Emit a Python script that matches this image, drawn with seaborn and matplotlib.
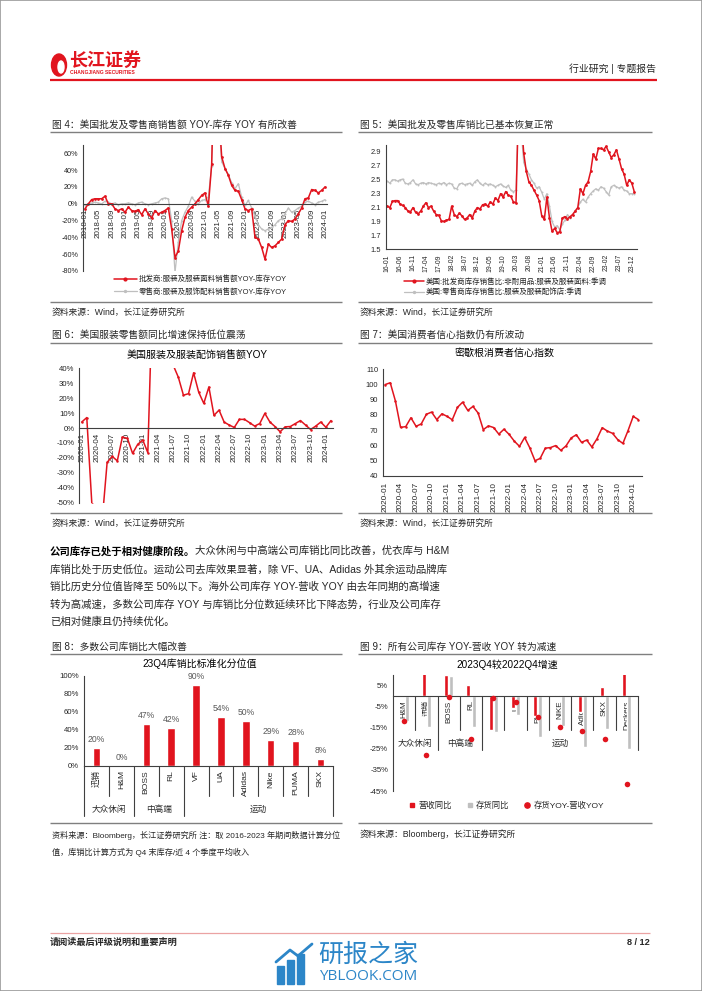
import numpy as np
import pandas as pd
import matplotlib
matplotlib.use("Agg")
import matplotlib.pyplot as plt
import matplotlib.transforms as mtrans
from matplotlib.lines import Line2D
from matplotlib.patches import Ellipse, Rectangle
import seaborn as sns

# ---------------- data ----------------
# Fig 4: monthly 2018-01 .. 2024-01, sales YOY minus inventory YOY (%)
fig4_start = "2018-01"
fig4_wholesale = [
    -6, 0, 5, 6, 6, 6, 9, 0, 0, -6, -8, -6,
    -10, -4, -8, -9, -7, -13, -6, -12, -17, -8, -12, -10,
    -8, -5, -30, -64, -56, -32, -16, -8, -4, 0, 5, 10,
    13, -3, 47, 200, 120, 56, 42, 34, 22, 16, 15, 5,
    -6, -8, -6, -40, -42, -52, -66, -48, -52, -50, -46, -42,
    -25, -20, -21, -18, -12, -5, 6, 7, 17, 16, 13, 16,
    20,
]
fig4_retail = [
    -2, 0, 1, 2, 1, 0, 3, 2, 0, 1, -1, 0,
    0, 1, 0, -1, 1, 2, 0, -1, 0, 1, 2, 6,
    7, 6, -20, -82, -45, -20, -10, -3, 8, 3, 0, 4,
    5, 8, 45, 200, 110, 50, 42, 35, 25, 18, 24, 8,
    -2, 4, -5, -15, -25, -30, -32, -30, -28, -25, -20, -18,
    -12, -5, -10, -8, -5, -3, 2, 3, 1, -1, 2, 3,
    5,
]
fig4_xlabels = ["2018-01", "2018-05", "2018-09", "2019-01", "2019-05", "2019-09",
                "2020-01", "2020-05", "2020-09", "2021-01", "2021-05", "2021-09",
                "2022-01", "2022-05", "2022-09", "2023-01", "2023-05", "2023-09", "2024-01"]
fig4_legend = ["批发商:服装及服装面料销售额YOY-库存YOY", "零售商:服装及服饰配料销售额YOY-库存YOY"]

# Fig 5: monthly 2016-01 .. 2024-01, inventory / sales ratio
fig5_start = "2016-01"
fig5_wholesale = [
    2.12, 2.10, 2.19, 2.20, 2.20, 2.15, 2.13, 2.10, 2.05, 2.04, 2.10, 2.03,
    2.01, 2.05, 2.12, 2.17, 2.10, 2.12, 2.05, 2.00, 1.99, 1.91, 1.90, 1.92,
    1.93, 2.12, 2.00, 1.97, 2.02, 1.98, 1.93, 1.95, 2.00, 1.95, 2.05, 2.10,
    2.08, 2.14, 2.15, 2.12, 2.18, 2.15, 2.24, 2.20, 2.30, 2.25, 2.33, 2.28,
    2.26, 2.18, 2.17, 3.60, 3.40, 2.88, 2.62, 2.47, 2.42, 2.35, 2.28, 2.20,
    1.98, 1.93, 2.25, 1.95, 1.76, 1.80, 1.74, 1.75, 1.95, 1.97, 1.94, 1.97,
    2.00, 2.05, 2.10, 2.37, 2.30, 2.42, 2.47, 2.62, 2.87, 2.80, 2.95, 2.95,
    2.93, 2.98, 2.90, 2.82, 2.86, 2.93, 2.80, 2.66, 2.58, 2.42, 2.50, 2.45,
    2.32,
]
fig5_retail = [
    2.48, 2.45, 2.50, 2.50, 2.48, 2.50, 2.51, 2.45, 2.44, 2.46, 2.50, 2.44,
    2.43, 2.45, 2.46, 2.44, 2.46, 2.45, 2.44, 2.43, 2.45, 2.44, 2.46, 2.43,
    2.45, 2.44, 2.38, 2.37, 2.44, 2.45, 2.43, 2.44, 2.45, 2.42, 2.47, 2.50,
    2.45, 2.42, 2.45, 2.43, 2.44, 2.42, 2.40, 2.42, 2.44, 2.41, 2.39, 2.42,
    2.35, 2.33, 2.35, 3.60, 3.20, 2.75, 2.65, 2.58, 2.50, 2.45, 2.38, 2.40,
    2.32, 2.22, 2.30, 2.12, 1.90, 1.82, 1.84, 1.78, 1.86, 1.92, 2.00, 1.95,
    2.00, 2.05, 2.10, 2.18, 2.22, 2.18, 2.25, 2.30, 2.34, 2.37, 2.35, 2.40,
    2.38, 2.33, 2.28, 2.40, 2.42, 2.40, 2.38, 2.40, 2.35, 2.34, 2.30, 2.30,
    2.30,
]
fig5_xlabels = ["16-01", "16-06", "16-11", "17-04", "17-09", "18-02", "18-07", "18-12",
                "19-05", "19-10", "20-03", "20-08", "21-01", "21-06", "21-11", "22-04",
                "22-09", "23-02", "23-07", "23-12"]
fig5_legend = ["美国:批发商库存销售比:非耐用品:服装及服装面料:季调", "美国:零售商库存销售比:服装及服装配饰店:季调"]

# Fig 6: monthly 2020-01 .. 2024-02, apparel retail sales YOY (%)
fig6_start = "2020-01"
fig6_yoy = [
    4, 7, -51, -89, -63, -23, -19, -22, -6, -7, -17, -11,
    -8, -16.5, 100, 700, 200, 200, 42, 34, 22, 23, 37, 24,
    16.5, 27.5, 8.5, 12, 4, 2, 0.4, 5.8, 5.8, 3.6, 1.3, 3,
    9.8, 4, 1, -2.5, 0.8, 1, 3, 5, 2, -1, 1.3, 4,
    0.5, 5,
]
# Fig 7: monthly 2020-01 .. 2024-02, Michigan consumer sentiment
fig7_start = "2020-01"
fig7_index = [
    99.8, 101.0, 89.1, 71.8, 72.3, 78.1, 72.5, 74.1, 80.4, 81.8, 76.9, 80.7,
    79.0, 76.8, 84.9, 88.3, 82.9, 85.5, 81.2, 70.3, 72.8, 71.7, 67.4, 70.6,
    67.2, 62.8, 59.4, 65.2, 58.4, 50.0, 51.5, 58.2, 58.6, 59.9, 56.8, 59.7,
    64.9, 67.0, 62.0, 63.5, 59.0, 64.4, 71.6, 69.4, 67.9, 63.8, 61.3, 69.7,
    79.0, 76.9,
]
fig67_xlabels = ["2020-01", "2020-04", "2020-07", "2020-10", "2021-01", "2021-04", "2021-07",
                 "2021-10", "2022-01", "2022-04", "2022-07", "2022-10", "2023-01", "2023-04",
                 "2023-07", "2023-10", "2024-01"]

# Fig 8: 23Q4 inventory/sales percentile
fig8_companies = ["迅销", "H&M", "BOSS", "RL", "VF", "UA", "Adidas", "Nike", "PUMA", "SKX"]
fig8_values = [20, 0, 47, 42, 90, 54, 50, 29, 28, 8]
fig8_groups = [("大众休闲", 0, 1), ("中高端", 2, 3), ("运动", 4, 9)]

# Fig 9: 2023Q4 vs 2022Q4
fig9_companies = ["H&M", "迅销", "BOSS", "RL", "VF", "UA", "PUMA", "NIKE", "Adidas", "SKX", "Deckers"]
fig9_revenue = [0, 13.5, 10.2, 5.3, -16, -5.8, -9.4, 0.4, -7.4, 4.2, 16.2]
fig9_inventory = [-12, -14.5, 9.4, -14.8, -16.8, -9, -19.2, -14, -24, -15.7, -25.2]
fig9_diff = [-12, -28, -0.5, -20.3, -1, -3, -9.8, -14.8, -16.5, -20.5, -41.5]
fig9_groups = [("大众休闲", 0, 1), ("中高端", 2, 3), ("运动", 4, 10)]
fig9_series = ["营收同比", "存货同比", "存货YOY-营收YOY"]

# ---------------- style ----------------
RED = "#E1141E"
GRAY = "#BFBFBF"
AXC = "#404040"
TXT = "#262626"
W, H = 702, 991

sns.set_theme(style="white")
plt.rcParams["font.family"] = ["Liberation Sans", "Noto Sans CJK SC"]
plt.rcParams["axes.unicode_minus"] = False

fig = plt.figure(figsize=(W / 100, H / 100), dpi=100)
fig.patch.set_facecolor("white")


def add_ax(x0, y0, x1, y1):
    ax = fig.add_axes([x0 / W, 1 - y1 / H, (x1 - x0) / W, (y1 - y0) / H])
    ax.set_facecolor("none")
    return ax


def ftext(x, y, s, size, ha="left", va="center", color=TXT, **kw):
    return fig.text(x / W, 1 - y / H, s, fontsize=size, ha=ha, va=va, color=color, **kw)


def hline(x0, x1, y, color="#7F7F7F", lw=1.0):
    fig.add_artist(Line2D([x0 / W, x1 / W], [1 - y / H, 1 - y / H], transform=fig.transFigure,
                          color=color, lw=lw, solid_capstyle="butt"))


def style(ax, xsize, ysize, xpad=1.5, zero_axis=False):
    sns.despine(ax=ax)
    if zero_axis:
        ax.spines["bottom"].set_position(("data", 0))
    for s in ("left", "bottom"):
        ax.spines[s].set_color(AXC)
        ax.spines[s].set_linewidth(0.8)
    ax.tick_params(axis="x", labelsize=xsize, colors=AXC, labelcolor=TXT, length=2, width=0.6,
                   pad=xpad, labelrotation=90)
    ax.tick_params(axis="y", labelsize=ysize, colors=AXC, labelcolor=TXT, length=2, width=0.6, pad=1.5)
    ax.set_xlabel("")
    ax.set_ylabel("")
    ax.grid(False)


def month_pos(start, n, labels, fmt):
    months = pd.period_range(start, periods=n, freq="M").strftime(fmt).tolist()
    return [months.index(l) for l in labels]


# ---------------- header ----------------
fig.add_artist(Ellipse((59 / W, 1 - 65 / H), 15 / W, 22 / H, transform=fig.transFigure, color=RED))
fig.add_artist(Ellipse((61 / W, 1 - 67 / H), 6 / W, 12 / H, transform=fig.transFigure, color="white"))
ftext(69, 61, "长江证券", 13, color=RED, fontweight="bold")
ftext(70, 72.5, "CHANGJIANG SECURITIES", 3.6, color=RED, fontweight="bold")
ftext(656, 69, "行业研究 | 专题报告", 7.1, ha="right")
hline(50, 657, 79.5, color=RED, lw=1.6)

# ---------------- captions / rules ----------------
ftext(52, 125, "图 4：美国批发及零售商销售额 YOY-库存 YOY 有所改善", 7)
ftext(360, 125, "图 5：美国批发及零售库销比已基本恢复正常", 7)
hline(50, 342, 131.7)
hline(358, 652, 131.7)
hline(50, 342, 301.7)
hline(358, 652, 301.7)
ftext(52, 312.7, "资料来源：Wind，长江证券研究所", 6.3)
ftext(360, 312.7, "资料来源：Wind，长江证券研究所", 6.3)

ftext(52, 335, "图 6：美国服装零售额同比增速保持低位震荡", 7)
ftext(360, 335, "图 7：美国消费者信心指数仍有所波动", 7)
hline(50, 342, 343)
hline(358, 652, 343)
hline(50, 342, 512.7)
hline(358, 652, 512.7)
ftext(52, 523.5, "资料来源：Wind，长江证券研究所", 6.3)
ftext(360, 523.5, "资料来源：Wind，长江证券研究所", 6.3)

ftext(52, 647, "图 8：多数公司库销比大幅改善", 7)
ftext(360, 647, "图 9：所有公司库存 YOY-营收 YOY 转为减速", 7)
hline(50, 342, 653.5)
hline(358, 652, 653.5)
hline(50, 342, 822.7)
hline(358, 652, 822.7)
ftext(52, 835, "资料来源：Bloomberg，长江证券研究所 注：取 2016-2023 年期间数据计算分位", 5.85)
ftext(52, 852, "值，库销比计算方式为 Q4 末库存/近 4 个季度平均收入", 5.85)
ftext(360, 834, "资料来源：Bloomberg，长江证券研究所", 6.3)

# ---------------- Fig 4 ----------------
ax4 = add_ax(83, 145, 327, 271)
x4 = np.arange(len(fig4_wholesale))
sns.lineplot(x=x4, y=fig4_retail, ax=ax4, color=GRAY, lw=0.9, marker="o", markersize=1.4, markeredgewidth=0)
sns.lineplot(x=x4, y=fig4_wholesale, ax=ax4, color=RED, lw=1.1, marker="o", markersize=2, markeredgewidth=0)
style(ax4, 5.8, 5.2, zero_axis=True)
ax4.set_ylim(-80, 70)
ax4.set_xlim(-0.6, 72.6)
yt = list(range(-80, 61, 20))
ax4.set_yticks(yt)
ax4.set_yticklabels([f"{v}%" for v in yt])
ax4.set_xticks(month_pos(fig4_start, len(x4), fig4_xlabels, "%Y-%m"))
ax4.set_xticklabels(fig4_xlabels, rotation=90)
ax4.legend([Line2D([], [], color=RED, lw=1.1, marker="o", ms=2),
            Line2D([], [], color=GRAY, lw=0.9, marker="o", ms=1.4)],
           fig4_legend, loc="upper left", bbox_to_anchor=(114 / W, 1 - 275.5 / H),
           bbox_transform=fig.transFigure, frameon=False, fontsize=5.4, handlelength=3.0,
           handletextpad=0.3, labelspacing=0.6, borderpad=0, borderaxespad=0, labelcolor=TXT)

# ---------------- Fig 5 ----------------
ax5 = add_ax(386, 145, 637, 249.3)
x5 = np.arange(len(fig5_wholesale))
sns.lineplot(x=x5, y=fig5_retail, ax=ax5, color=GRAY, lw=0.9, marker="o", markersize=1.4, markeredgewidth=0)
sns.lineplot(x=x5, y=fig5_wholesale, ax=ax5, color=RED, lw=1.1, marker="o", markersize=2, markeredgewidth=0)
style(ax5, 4.9, 5.4)
ax5.set_ylim(1.5, 3.0)
ax5.set_xlim(-0.5, 97)
yt5 = [1.5, 1.7, 1.9, 2.1, 2.3, 2.5, 2.7, 2.9]
ax5.set_yticks(yt5)
ax5.set_yticklabels([f"{v:.1f}" for v in yt5])
ax5.set_xticks(month_pos(fig5_start, len(x5), fig5_xlabels, "%y-%m"))
ax5.set_xticklabels(fig5_xlabels, rotation=90)
ax5.legend([Line2D([], [], color=RED, lw=1.1, marker="o", ms=2),
            Line2D([], [], color=GRAY, lw=0.9, marker="o", ms=1.4)],
           fig5_legend, loc="upper left", bbox_to_anchor=(404 / W, 1 - 278 / H),
           bbox_transform=fig.transFigure, frameon=False, fontsize=5.4, handlelength=2.6,
           handletextpad=0.3, labelspacing=0.35, borderpad=0, borderaxespad=0, labelcolor=TXT)

# ---------------- Fig 6 ----------------
ftext(197, 355, "美国服装及服装配饰销售额YOY", 7.2, ha="center", color="black")
ax6 = add_ax(79.3, 368.3, 333, 502.7)
x6 = np.arange(len(fig6_yoy))
sns.lineplot(x=x6, y=fig6_yoy, ax=ax6, color=RED, lw=1.1, marker="o", markersize=1.8, markeredgewidth=0)
style(ax6, 5.8, 5.6, zero_axis=True)
ax6.set_ylim(-50, 40)
ax6.set_xlim(-0.47, 49.4)
yt6 = list(range(-50, 41, 10))
ax6.set_yticks(yt6)
ax6.set_yticklabels([f"{v}%" for v in yt6])
ax6.set_xticks(month_pos(fig6_start, len(x6), fig67_xlabels, "%Y-%m"))
ax6.set_xticklabels(fig67_xlabels, rotation=90)

# ---------------- Fig 7 ----------------
ftext(505, 353, "密歇根消费者信心指数", 7.2, ha="center", color="black")
ax7 = add_ax(383, 369, 642, 476)
x7 = np.arange(len(fig7_index))
sns.lineplot(x=x7, y=fig7_index, ax=ax7, color=RED, lw=1.1, marker="o", markersize=1.8, markeredgewidth=0)
style(ax7, 5.9, 5.4, xpad=2.5)
ax7.set_ylim(40, 110)
ax7.set_xlim(-0.4, 49.7)
yt7 = list(range(40, 111, 10))
ax7.set_yticks(yt7)
ax7.set_yticklabels([str(v) for v in yt7])
ax7.set_xticks(month_pos(fig7_start, len(x7), fig67_xlabels, "%Y-%m"))
ax7.set_xticklabels(fig67_xlabels, rotation=90)

# ---------------- Fig 8 ----------------
ftext(200, 664, "23Q4库销比标准化分位值", 7.2, ha="center", color="black")
ax8 = add_ax(84, 676, 333, 766)
sns.barplot(x=fig8_companies, y=fig8_values, color=RED, saturation=1, width=0.3, ax=ax8)
style(ax8, 6.1, 5.6)
ax8.set_ylim(0, 100)
ax8.set_xlim(-0.5, len(fig8_companies) - 0.5)
yt8 = list(range(0, 101, 20))
ax8.set_yticks(yt8)
ax8.set_yticklabels([f"{v}%" for v in yt8])
ax8.tick_params(axis="x", length=0, pad=3)
ax8.bar_label(ax8.containers[0], labels=[f"{v}%" for v in fig8_values], padding=3,
              fontsize=6.2, color="#595959")
tr8 = mtrans.blended_transform_factory(ax8.transData, ax8.transAxes)
long8 = {-0.5} | {g[1] - 0.5 for g in fig8_groups} | {len(fig8_companies) - 0.5}
for b in np.arange(-0.5, len(fig8_companies), 1.0):
    ax8.plot([b, b], [0, -0.556 if b in long8 else -0.333], transform=tr8, clip_on=False,
             color=AXC, lw=0.8)
for name, a, b in fig8_groups:
    ax8.text((a + b) / 2, -0.478, name, transform=tr8, ha="center", va="center", fontsize=6.2, color=TXT)

# ---------------- Fig 9 ----------------
ftext(507, 665, "2023Q4较2022Q4增速", 7.2, ha="center", color="black")
ax9 = add_ax(393, 675, 638, 791)
df9 = pd.DataFrame({
    "公司": fig9_companies * 2,
    "指标": [fig9_series[0]] * len(fig9_companies) + [fig9_series[1]] * len(fig9_companies),
    "值": fig9_revenue + fig9_inventory,
})
sns.barplot(data=df9, x="公司", y="值", hue="指标", palette=[RED, GRAY], saturation=1,
            width=0.46, gap=0.22, ax=ax9, legend=False)
sns.scatterplot(x=np.arange(len(fig9_companies)), y=fig9_diff, color=RED, s=16, linewidth=0,
                ax=ax9, zorder=5)
style(ax9, 5.8, 5.6, zero_axis=True)
ax9.set_ylim(-45, 10)
ax9.set_xlim(-0.5, len(fig9_companies) - 0.5)
yt9 = [-45, -35, -25, -15, -5, 5]
ax9.set_yticks(yt9)
ax9.set_yticklabels([f"{v}%" for v in yt9])
ax9.set_xticks(np.arange(len(fig9_companies)))
ax9.set_xticklabels(fig9_companies, rotation=90)
ax9.tick_params(axis="x", length=0, pad=3)
long9 = {g[1] - 0.5 for g in fig9_groups} | {len(fig9_companies) - 0.5}
for b in np.arange(0.5, len(fig9_companies), 1.0):
    ax9.plot([b, b], [0, -25.6 if b in long9 else -16.1], color=AXC, lw=0.8, clip_on=False)
for name, a, b in fig9_groups:
    ax9.text((a + b) / 2, -22.4, name, ha="center", va="center", fontsize=6.2, color=TXT)
ax9.legend([Line2D([], [], marker="s", ls="", color=RED, ms=3.5),
            Line2D([], [], marker="s", ls="", color=GRAY, ms=3.5),
            Line2D([], [], marker="o", ls="", color=RED, ms=3.8)],
           fig9_series, loc="center", bbox_to_anchor=(506 / W, 1 - 806 / H),
           bbox_transform=fig.transFigure, frameon=False, fontsize=6, ncol=3,
           handlelength=1.0, handletextpad=0.3, columnspacing=1.6, borderpad=0, labelcolor=TXT)

# ---------------- paragraph ----------------
para_y = [551, 569, 587, 604, 622]
PFS = 7.5
t_bold = ftext(50, para_y[0], "公司库存已处于相对健康阶段。", PFS, fontweight="bold", color="black")
rest_lines = [
    "大众休闲与中高端公司库销比同比改善，优衣库与 H&M",
    "库销比处于历史低位。运动公司去库效果显著，除 VF、UA、Adidas 外其余运动品牌库",
    "销比历史分位值皆降至 50%以下。海外公司库存 YOY-营收 YOY 由去年同期的高增速",
    "转为高减速，多数公司库存 YOY 与库销比分位数延续环比下降态势，行业及公司库存",
    "已相对健康且仍持续优化。",
]
fig.canvas.draw()
bb = t_bold.get_window_extent(renderer=fig.canvas.get_renderer())
x_rest = bb.x1 / fig.dpi * 100
ftext(x_rest, para_y[0], rest_lines[0], PFS, color=TXT)
for yy, line in zip(para_y[1:], rest_lines[1:]):
    ftext(50, yy, line, PFS, color=TXT)

# ---------------- footer ----------------
hline(50, 650, 933, color="#EBA3A3", lw=0.9)
ftext(50, 942.5, "请阅读最后评级说明和重要声明", 6.6, fontweight="bold")
ftext(650, 942.5, "8 / 12", 6.6, ha="right", fontweight="bold")
BLUE = "#2C86C8"
for bx, btop in [(277, 966), (287, 960), (297, 954)]:
    fig.add_artist(Rectangle((bx / W, 1 - 984 / H), 7 / W, (984 - btop) / H,
                             transform=fig.transFigure, color=BLUE))
fig.add_artist(Line2D([276 / W, 290 / W, 298 / W, 312 / W], [1 - 962 / H, 1 - 950 / H, 1 - 956 / H, 1 - 944 / H],
                      transform=fig.transFigure, color=BLUE, lw=2))
ftext(318, 955, "研报之家", 18, color=BLUE, family=["Noto Sans CJK SC"])
ftext(319, 976, "YBLOOK.COM", 11, color=BLUE, family=["Open Sans", "DejaVu Sans"])

fig.add_artist(Rectangle((0, 0), 1, 1, transform=fig.transFigure, fill=False, ec="#9A9A9A", lw=1.2))

fig.savefig("out.png", dpi=100, facecolor="white")
